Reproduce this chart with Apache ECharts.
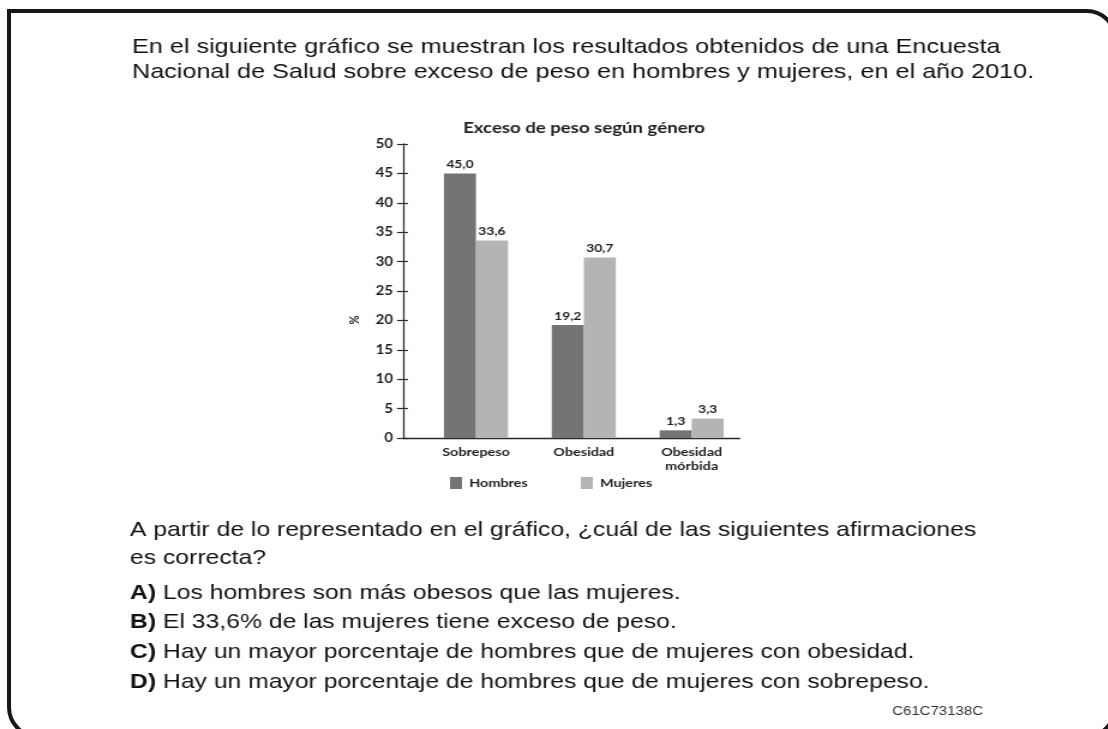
<!DOCTYPE html>
<html>
<head>
<meta charset="utf-8">
<script src="https://cdn.jsdelivr.net/npm/echarts@6/dist/echarts.min.js"></script>
<style>
  html, body { margin: 0; padding: 0; background: #fff; overflow: hidden; width: 1108px; height: 729px; }
  #wrap { position: absolute; left: 0; top: 0; width: 1108px; height: 729px; overflow: hidden; }
  #frame { position: absolute; left: 7px; top: 9px; width: 1102px; height: 722px;
           border: 4px solid #1c1515; border-radius: 0 30px 32px 32px; }
  #c { position: absolute; left: 0; top: 0; width: 923px; height: 729px;
       transform: scaleX(1.2); transform-origin: 0 0; }
</style>
</head>
<body>
<div id="wrap">
  <div id="frame"></div>
  <div id="c"></div>
</div>
<script>
// ---- data ----
const categories = ['Sobrepeso', 'Obesidad', 'Obesidad\nmórbida'];
const seriesNames = ['Hombres', 'Mujeres'];
const hombres = [45.0, 19.2, 1.3];
const mujeres = [33.6, 30.7, 3.3];
const yMin = 0, yMax = 50, yStep = 5;
const chartTitle = 'Exceso de peso según género';
const yName = '%';
const introLines = [
  'En el siguiente gráfico se muestran los resultados obtenidos de una Encuesta',
  'Nacional de Salud sobre exceso de peso en hombres y mujeres, en el año 2010.'
];
const questionLines = [
  'A partir de lo representado en el gráfico, ¿cuál de las siguientes afirmaciones',
  'es correcta?'
];
const optionKeys = ['A)', 'B)', 'C)', 'D)'];
const optionTexts = [
  'Los hombres son más obesos que las mujeres.',
  'El 33,6% de las mujeres tiene exceso de peso.',
  'Hay un mayor porcentaje de hombres que de mujeres con obesidad.',
  'Hay un mayor porcentaje de hombres que de mujeres con sobrepeso.'
];
const itemCode = 'C61C73138C';

// ---- chart ----
const S = 1.2; // horizontal stretch of the reference
const W = 1108 / S;
const ux = v => v / S;
const chartFont = 'Lato';
const textFont = '"Liberation Sans", Arial, sans-serif';
const ink = '#1e1e1e';
const fmt = v => v.toFixed(1).replace('.', ',');

const chart = echarts.init(document.getElementById('c'), null, { renderer: 'canvas' });

const graphics = [];
introLines.forEach((t, i) => graphics.push({
  type: 'text', x: ux(132), y: 47 + i * 25.5,
  style: { text: t, fontFamily: textFont, fontSize: 21, fill: '#111', verticalAlign: 'middle' }
}));
questionLines.forEach((t, i) => graphics.push({
  type: 'text', x: ux(130), y: 530 + i * 28,
  style: { text: t, fontFamily: textFont, fontSize: 20.6, fill: '#111', verticalAlign: 'middle' }
}));
optionTexts.forEach((t, i) => graphics.push({
  type: 'text', x: ux(130), y: 593 + i * 29.7,
  style: {
    text: '{b|' + optionKeys[i] + '} ' + t,
    fontFamily: textFont, fontSize: 20.6, fill: '#111', verticalAlign: 'middle',
    rich: { b: { fontFamily: textFont, fontSize: 20.6, fontWeight: 'bold', fill: '#111' } }
  }
}));
graphics.push({
  type: 'text', x: ux(983), y: 712,
  style: { text: itemCode, fontFamily: textFont, fontSize: 12.5, fill: '#333', align: 'right', verticalAlign: 'middle' }
});
graphics.push({
  type: 'text', x: ux(355), y: 320, rotation: Math.PI / 2,
  style: { text: yName, fontFamily: chartFont, fontWeight: 'bold', fontSize: 11, fill: ink, align: 'center', verticalAlign: 'middle' }
});

const option = {
  animation: false,
  backgroundColor: 'transparent',
  title: {
    text: chartTitle, left: ux(578), top: 115, textAlign: 'center',
    textStyle: { fontFamily: chartFont, fontWeight: 'bold', fontSize: 15.5, color: ink }
  },
  legend: {
    data: seriesNames, icon: 'rect', itemWidth: ux(12), itemHeight: 12,
    left: ux(450), top: 477, itemGap: ux(53), padding: 0,
    textStyle: { fontFamily: chartFont, fontWeight: 'bold', fontSize: 12, color: ink, padding: [0, 0, 0, 1] }
  },
  grid: [
    { left: ux(403), right: W - ux(740), top: 144, bottom: 729 - 438 },
    { left: ux(422), right: W - ux(746), top: 144, bottom: 729 - 438 }
  ],
  xAxis: [
    { type: 'value', gridIndex: 0, min: 0, max: 1,
      axisLine: { show: true, onZero: false, lineStyle: { color: '#2a2a2a', width: 1.3 } },
      axisTick: { show: false }, axisLabel: { show: false }, splitLine: { show: false } },
    { type: 'category', gridIndex: 1, data: categories,
      axisLine: { show: false }, axisTick: { show: false },
      axisLabel: { margin: 7, fontFamily: chartFont, fontWeight: 'bold', fontSize: 12, color: ink, lineHeight: 14 } }
  ],
  yAxis: [
    { type: 'value', gridIndex: 0, min: yMin, max: yMax, interval: yStep,
      axisLine: { show: true, lineStyle: { color: '#2a2a2a', width: 1.3 } },
      axisTick: { show: true, length: ux(6), lineStyle: { color: '#2a2a2a', width: 1.2 } },
      axisLabel: { margin: ux(10), fontFamily: chartFont, fontWeight: 'bold', fontSize: 12.5, color: ink },
      splitLine: { show: false } },
    { type: 'value', gridIndex: 0, min: yMin, max: yMax, interval: yStep, position: 'left',
      axisLine: { show: false },
      axisTick: { show: true, inside: true, length: ux(5), lineStyle: { color: '#2a2a2a', width: 1.2 } },
      axisLabel: { show: false }, splitLine: { show: false } },
    { type: 'value', gridIndex: 1, min: yMin, max: yMax, show: false, splitLine: { show: false } }
  ],
  series: [
    { name: seriesNames[0], type: 'bar', xAxisIndex: 1, yAxisIndex: 2, data: hombres,
      barWidth: ux(32), barGap: '0%', itemStyle: { color: '#747476' },
      label: { show: true, position: 'top', distance: 3, formatter: p => fmt(p.value),
               fontFamily: chartFont, fontWeight: 'bold', fontSize: 11.5, color: ink } },
    { name: seriesNames[1], type: 'bar', xAxisIndex: 1, yAxisIndex: 2, data: mujeres,
      barWidth: ux(32), barGap: '0%', itemStyle: { color: '#b4b4b6' },
      label: { show: true, position: 'top', distance: 3, formatter: p => fmt(p.value),
               fontFamily: chartFont, fontWeight: 'bold', fontSize: 11.5, color: ink } }
  ],
  graphic: graphics
};
chart.setOption(option);
</script>
</body>
</html>
